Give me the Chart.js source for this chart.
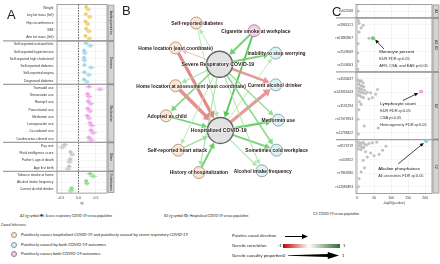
<!DOCTYPE html>
<html>
<head>
<meta charset="utf-8">
<script src="https://cdn.jsdelivr.net/npm/chart.js@4.4.1/dist/chart.umd.min.js"></script>
<style>
body{margin:0;width:440px;height:264px;overflow:hidden;background:#fff;position:relative;font-family:"Liberation Sans",Arial,sans-serif;color:#222}
canvas{position:absolute}
.t{position:absolute;white-space:nowrap;line-height:1;font-family:Lato,"Liberation Sans",sans-serif}
.dot{position:absolute;width:4px;height:4px;border-radius:50%;border:1px solid #777}
.letter{position:absolute;font-size:13px;line-height:1;font-family:"Liberation Sans",Arial,sans-serif}
</style>
</head>
<body>
<canvas id="chartA" width="115" height="205" style="left:0;top:0"></canvas>
<canvas id="chartB" width="210" height="205" style="left:112px;top:0"></canvas>
<canvas id="chartC" width="120" height="205" style="left:320px;top:0"></canvas>

<div class="letter" style="left:7px;top:8px">A</div>
<div class="letter" style="left:122px;top:4px">B</div>
<div class="letter" style="left:332px;top:5px">C</div>

<!-- legend -->
<div class="t" style="left:20px;top:213px;font-size:3.2px">A2 (rg symbol <b style="font-size:5px">&#9679;</b>): Severe respiratory COVID-19 versus population</div>
<div class="t" style="left:164px;top:213px;font-size:3.2px">B2 (rg symbol <b style="font-size:5px">&#9675;</b>): Hospitalized COVID-19 versus population</div>
<div class="t" style="left:313px;top:213px;font-size:3.2px">C2: COVID-19 versus population</div>
<div class="t" style="left:1px;top:224px;font-size:3.4px">Causal Inference:</div>
<div class="dot" style="left:11px;top:232px;background:#fde6cf;border-color:#a89577"></div>
<div class="t" style="left:21px;top:233px;font-size:4.1px">Putatively causes <i>hospitalized COVID-19</i> and putatively caused by <i>severe respiratory COVID-19</i></div>
<div class="dot" style="left:11px;top:242px;background:#d8f3f3;border-color:#7c9596"></div>
<div class="t" style="left:21px;top:243px;font-size:4.1px">Putatively caused by both COVID-19 outcomes</div>
<div class="dot" style="left:11px;top:251px;background:#f6c8ea;border-color:#9a7b92"></div>
<div class="t" style="left:21px;top:252px;font-size:4.1px">Putatively causes both COVID-19 outcomes</div>

<div class="t" style="left:232px;top:234px;font-size:4.1px">Putative causal direction</div>
<div style="position:absolute;left:285px;top:236px;width:18px;height:1.4px;background:#000"></div>
<div style="position:absolute;left:302px;top:234px;width:6px;height:5px;background:#000;clip-path:polygon(0 0,100% 50%,0 100%)"></div>
<div class="t" style="left:232px;top:244px;font-size:4.1px">Genetic correlation</div>
<div class="t" style="left:278px;top:244px;font-size:4.1px">-1</div>
<div style="position:absolute;left:283px;top:244px;width:57px;height:4px;background:linear-gradient(to right,#c40000,#ffffff 45%,#2f6b2f)"></div>
<div class="t" style="left:343px;top:244px;font-size:4.1px">1</div>
<div class="t" style="left:232px;top:254px;font-size:4.1px">Genetic causality proportion</div>
<div class="t" style="left:283px;top:254px;font-size:4.1px">0</div>
<div style="position:absolute;left:288px;top:252px;width:51px;height:7px;background:#000;clip-path:polygon(0 47%,78% 28%,78% 0,100% 50%,78% 100%,78% 72%,0 53%)"></div>
<div class="t" style="left:342px;top:254px;font-size:4.1px">1</div>

<script>
Chart.defaults.font.family = '"Liberation Sans", Arial, sans-serif';
Chart.defaults.color = '#333';
Chart.defaults.animation = false;

// ---------- Panel A data ----------
const rowsA = ["Weight","Leg fat mass (left)","Hip circumference","BMI","Arm fat mass (left)",
  "Self-reported osteoarthritis","Self-reported hypertension","Self-reported high cholesterol","Self-reported diabetes","Self-reported angina","Diagnosed diabetes",
  "Tramadol use","Simvastatin use","Ramipril use","Paracetamol use","Metformin use","Lansoprazole use","Co-codamol use","Candesartan cilexetil use",
  "Pay rent","Fluid intelligence score","Father's age at death","Age first birth",
  "Tobacco smoke at home","Alcohol intake frequency","Current alcohol drinker"];
const facetA = [0,0,0,0,0, 1,1,1,1,1,1, 2,2,2,2,2,2,2,2, 3,3,3,3, 4,4,4];
const facetNamesA = ["Anthropometrics","Disease","Medication","Other","Substances"];
const rgA2 = [0.22,0.21,0.20,0.22,0.20, 0.22,0.16,0.16,0.17,0.17,0.16, 0.30,0.26,0.28,0.27,0.25,0.33,0.36,0.30, -0.40,-0.23,-0.24,-0.27, 0.33,0.22,-0.20];
const seA2 = [0.03,0.03,0.03,0.03,0.03, 0.04,0.03,0.03,0.03,0.04,0.03, 0.05,0.04,0.04,0.04,0.04,0.04,0.05,0.05, 0.05,0.03,0.04,0.04, 0.05,0.03,0.04];
const rgB2 = [0.28,0.32,0.26,0.30,0.31, 0.34,0.18,0.17,0.36,0.30,0.24, 0.62,0.30,0.35,0.33,0.30,0.38,0.42,0.36, -0.47,-0.18,-0.26,-0.30, 0.42,0.24,-0.22];
const seB2 = [0.04,0.04,0.04,0.04,0.04, 0.05,0.04,0.04,0.05,0.05,0.04, 0.07,0.05,0.05,0.05,0.05,0.05,0.06,0.06, 0.06,0.04,0.05,0.05, 0.06,0.04,0.05];
const ticksA = [-0.5, 0, 0.5];
const facetColA = ["#f1cd62","#9dd6ea","#f2a2ec","#c6c6c6","#8ddb8d"];

// ---------- Panel B data ----------
const nodeNames = ["Self-reported diabetes","Cigarette smoke at workplace","Home location (east coordinate)","Severe Respiratory COVID-19",
  "Inability to stop worrying","Home location at assessment (east coordinate)","Current alcohol drinker","Adopted as child",
  "Hospitalized COVID-19","Metformin use","Self-reported heart attack","Sometimes cold workplace","History of hospitalization","Alcohol intake frequency"];
const nodeType = [0,2,0,3,1,0,1,0,3,1,0,1,0,1]; // 0 causes hosp/caused by severe, 1 caused by both, 2 causes both, 3 outcome
const nodeX = [81,148,57,108,173,57,173,46,109,176,60,174,84,157];
const nodeY = [10,19,39,58,45,83,82,118,135,123,158,158,184,182];
const labelDx = [1,2,0,-2,1,18,-1,1,-2,0,-1,0,0,1];
const edgeFrom = [3,0,3,2,3,5,3,7,3,10,3,12,1,1,3,8,3,8,3,8,3,8,3,8];
const edgeTo   = [0,8,2,8,5,8,7,8,10,8,12,8,3,8,4,4,6,6,9,9,11,11,13,13];
const edgeRg   = [0.15,0.15,-0.2,-0.5,0.2,-0.45,0.4,0.45,0.15,0.25,0.2,0.5,0.45,0.6,0.45,0.12,-0.4,-0.4,0.3,0.5,0.35,0.45,0.15,0.15];
const edgeProp = [0.1,0.1,0.1,0.6,0.15,0.7,0.25,0.25,0.1,0.2,0.15,0.3,0.35,0.3,0.35,0.1,0.45,0.6,0.2,0.4,0.25,0.3,0.15,0.15];

// ---------- Panel C data ----------
const snpsC = ["rs622568","rs2861521","rs61882867","rs2109069","rs2109063",
  "rs4530637","rs143334143","rs3131294","rs17076953","rs11798422",
  "rs8176719","rs505922","rs7849280","rs12683493"];
const facetRangesC = [[0,1],[1,5],[5,10],[10,14]];
const facetNamesC = ["A2","A2, B2","B2","C2"];
const greyX = [3, 6,18,12,6,4,35,3,2,3,2,
  3,8,13,18,5,10,15,20,4,9,14,22,6,11,17,25,3,8,13,19,30,40,55,45,35,60,7,12,5,21,62,3,4,
  3,8,13,18,23,5,10,15,20,28,35,45,58,4,12,25,40,50,65,75,85,30,18,22,12,6,4];
const greyY = [0.5, 1.4,1.55,1.75,2.05,1.2,2.5,2.9,3.6,4.2,4.8,
  5.6,5.7,5.65,5.8,5.9,6.0,6.05,6.1,6.2,6.25,6.3,6.35,6.45,6.5,6.55,6.6,6.7,6.75,6.85,6.9,6.5,6.55,6.65,6.9,7.0,6.3,7.2,7.4,7.8,9.0,9.15,8.5,9.6,
  10.2,10.25,10.3,10.2,10.35,10.45,10.5,10.55,10.6,10.4,10.3,10.25,10.2,10.7,10.75,10.9,11.0,11.2,11.1,10.8,10.5,11.3,11.55,12.1,12.4,12.9,13.5];
const hiName = ["Monocyte percent","Lymphocyte count","Alkaline phosphatase"];
const hiX = [47,188,203];
const hiY = [2.5,6.45,10.1];
const hiNotes = [["EUR FDR q<0.05","AFR, CSA, and EAS p<0.05"],["EUR FDR q<0.05","CSA p<0.05","Heterogeneity FDR q<0.05"],["All ancestries FDR q<0.05"]];
const noteX = [65,68,62];
const noteY = [3.52,7.33,12.17];
const arrowFromX = [79,135,121], arrowFromY = [3.3,7.11,11.8];
const arrowToX = [53,180,196], arrowToY = [2.6,6.55,10.25];
const ticksC = [0,50,100,150,200];

// ---------- helpers ----------
function stripPlugin(ranges, names, fullLeft) {
  return {
    id: 'strips',
    beforeDatasetsDraw(chart) {
      const {ctx, chartArea: a, scales: {y}} = chart;
      ctx.save();
      ranges.forEach((r, i) => {
        const y0 = y.getPixelForValue(r[0]), y1 = y.getPixelForValue(r[1]);
        ctx.strokeStyle = '#8a8a8a';
        ctx.lineWidth = 0.8;
        ctx.strokeRect(a.left, y0, a.right - a.left, y1 - y0);
        if (i > 0) {
          ctx.strokeStyle = '#a0a0a0';
          ctx.lineWidth = 1.2;
          ctx.beginPath(); ctx.moveTo(fullLeft, y0); ctx.lineTo(a.right + 7, y0); ctx.stroke();
        }
      });
      ctx.restore();
    },
    afterDraw(chart) {
      const {ctx, chartArea: a, scales: {y}} = chart;
      ctx.save();
      ranges.forEach((r, i) => {
        const y0 = y.getPixelForValue(r[0]), y1 = y.getPixelForValue(r[1]);
        ctx.fillStyle = '#d4d4d4';
        ctx.fillRect(a.right + 1, y0 + 0.5, 6, y1 - y0 - 1);
        ctx.strokeStyle = '#7a7a7a';
        ctx.lineWidth = 0.6;
        ctx.strokeRect(a.right + 1, y0 + 0.5, 6, y1 - y0 - 1);
        ctx.translate(a.right + 4, (y0 + y1) / 2);
        ctx.rotate(Math.PI / 2);
        ctx.fillStyle = '#222';
        ctx.font = '3.3px "Liberation Sans", Arial';
        ctx.textAlign = 'center';
        ctx.textBaseline = 'middle';
        ctx.fillText(names[i], 0, 0);
        ctx.setTransform(1, 0, 0, 1, 0, 0);
      });
      ctx.restore();
    }
  };
}

function rgColor(rg, alpha) {
  const t = Math.min(1, Math.abs(rg) / 0.6);
  const c = rg >= 0 ? [70, 195, 70] : [220, 105, 105];
  const m = c.map(v => Math.round(255 + (v - 255) * (0.25 + 0.75 * t)));
  return `rgba(${m[0]},${m[1]},${m[2]},${alpha})`;
}

// ---------- Panel A ----------
const errPluginA = {
  id: 'errA',
  beforeDatasetsDraw(chart) {
    const {ctx, scales: {x, y}} = chart;
    ctx.save();
    // reference line at zero
    ctx.strokeStyle = '#222';
    ctx.setLineDash([1.5, 1.2]);
    ctx.lineWidth = 0.7;
    ctx.beginPath();
    ctx.moveTo(x.getPixelForValue(0), chart.chartArea.top);
    ctx.lineTo(x.getPixelForValue(0), chart.chartArea.bottom);
    ctx.stroke();
    ctx.setLineDash([]);
    [[rgA2, seA2, -0.18], [rgB2, seB2, 0.18]].forEach(([v, se, off]) => {
      v.forEach((val, i) => {
        ctx.strokeStyle = facetColA[facetA[i]];
        ctx.lineWidth = 0.8;
        const yy = y.getPixelForValue(i + off);
        ctx.beginPath();
        ctx.moveTo(x.getPixelForValue(val - 1.96 * se[i]), yy);
        ctx.lineTo(x.getPixelForValue(val + 1.96 * se[i]), yy);
        ctx.stroke();
      });
    });
    ctx.restore();
  }
};

new Chart(document.getElementById('chartA'), {
  type: 'scatter',
  data: {
    datasets: [
      {
        label: 'A2',
        data: rgA2.map((v, i) => ({x: v, y: i - 0.18})),
        pointRadius: 1.6,
        pointBackgroundColor: rgA2.map((v, i) => facetColA[facetA[i]]),
        pointBorderColor: rgA2.map((v, i) => facetColA[facetA[i]]),
        pointBorderWidth: 0.4
      },
      {
        label: 'B2',
        data: rgB2.map((v, i) => ({x: v, y: i + 0.18})),
        pointRadius: 1.8,
        pointBackgroundColor: rgB2.map((v, i) => facetColA[facetA[i]] + '99'),
        pointBorderColor: rgB2.map((v, i) => facetColA[facetA[i]]),
        pointBorderWidth: 0.6
      }
    ]
  },
  options: {
    responsive: false,
    layout: {padding: {top: 1, right: 8, left: 0, bottom: 0}},
    plugins: {legend: {display: false}, tooltip: {enabled: false}},
    scales: {
      x: {
        min: -0.62, max: 0.82,
        afterBuildTicks: s => { s.ticks = ticksA.map(v => ({value: v})); },
        ticks: {font: {size: 3.6}, padding: 1, callback: v => v.toFixed(1)},
        grid: {color: '#ececec', lineWidth: 0.6, tickLength: 1.5},
        border: {display: false},
        title: {display: true, text: 'rg', font: {size: 3.4}, padding: 0}
      },
      y: {
        reverse: true, min: -0.5, max: 25.5,
        afterBuildTicks: s => { s.ticks = rowsA.map((r, i) => ({value: i})); },
        afterFit: s => { s.width = 57; },
        ticks: {font: {size: 3.35}, padding: 2, color: '#333', callback: v => rowsA[v]},
        grid: {color: '#ededed', lineWidth: 0.5, tickLength: 1.5},
        border: {display: false}
      }
    }
  },
  plugins: [errPluginA, stripPlugin([[-0.5,4.5],[4.5,10.5],[10.5,18.5],[18.5,22.5],[22.5,25.5]], facetNamesA, 3)]
});

// ---------- Panel B ----------
const nodeFill = ["#fde6cf", "#d8f3f3", "#f6c8ea", "#e2e2e2"];
const nodeBorder = ["#9e8a74", "#7b9394", "#9a7b92", "#666666"];
const nodeR = nodeType.map(t => t === 3 ? 13 : 6);

const edgePlugin = {
  id: 'edges',
  beforeDatasetsDraw(chart) {
    const {ctx, scales: {x, y}} = chart;
    ctx.save();
    edgeFrom.forEach((f, k) => {
      const t = edgeTo[k];
      const x1 = x.getPixelForValue(nodeX[f]), y1 = y.getPixelForValue(nodeY[f]);
      const x2 = x.getPixelForValue(nodeX[t]), y2 = y.getPixelForValue(nodeY[t]);
      const dx = x2 - x1, dy = y2 - y1, len = Math.hypot(dx, dy);
      const ux = dx / len, uy = dy / len;
      const w = 0.5 + edgeProp[k] * 4.5;
      const head = 4 + w * 0.9;
      const sx = x1 + ux * nodeR[f], sy = y1 + uy * nodeR[f];
      const ex = x2 - ux * (nodeR[t] + 0.6), ey = y2 - uy * (nodeR[t] + 0.6);
      const col = rgColor(edgeRg[k], 0.9);
      ctx.strokeStyle = col;
      ctx.fillStyle = col;
      ctx.lineWidth = w;
      ctx.beginPath();
      ctx.moveTo(sx, sy);
      ctx.lineTo(ex - ux * head * 0.7, ey - uy * head * 0.7);
      ctx.stroke();
      const hw = head * 0.5 + w * 0.3;
      ctx.beginPath();
      ctx.moveTo(ex, ey);
      ctx.lineTo(ex - ux * head - uy * hw, ey - uy * head + ux * hw);
      ctx.lineTo(ex - ux * head + uy * hw, ey - uy * head - ux * hw);
      ctx.closePath();
      ctx.fill();
    });
    ctx.restore();
  },
  afterDatasetsDraw(chart) {
    const {ctx, scales: {x, y}} = chart;
    ctx.save();
    ctx.textAlign = 'center';
    ctx.textBaseline = 'middle';
    nodeNames.forEach((n, i) => {
      const big = nodeType[i] === 3;
      ctx.font = 'bold ' + (big ? 5.2 : 4.9) + 'px "Liberation Sans", Arial';
      const px = x.getPixelForValue(nodeX[i] + labelDx[i]);
      const py = y.getPixelForValue(nodeY[i]) + 0.5;
      ctx.lineWidth = 1.2;
      ctx.strokeStyle = 'rgba(255,255,255,0.6)';
      ctx.strokeText(n, px, py);
      ctx.fillStyle = '#2a1a1a';
      ctx.fillText(n, px, py);
    });
    ctx.restore();
  }
};

new Chart(document.getElementById('chartB'), {
  type: 'scatter',
  data: {
    datasets: [{
      data: nodeX.map((v, i) => ({x: v, y: nodeY[i]})),
      pointRadius: nodeR,
      pointBackgroundColor: nodeType.map(t => nodeFill[t]),
      pointBorderColor: nodeType.map(t => nodeBorder[t]),
      pointBorderWidth: nodeType.map(t => t === 3 ? 1.4 : 0.8)
    }]
  },
  options: {
    responsive: false,
    layout: {padding: 0},
    plugins: {legend: {display: false}, tooltip: {enabled: false}},
    scales: {
      x: {display: false, min: 0, max: 210},
      y: {display: false, min: 0, max: 205, reverse: true}
    }
  },
  plugins: [edgePlugin]
});

// ---------- Panel C ----------
const notePluginC = {
  id: 'notesC',
  beforeDatasetsDraw(chart) {
    const {ctx, scales: {x, y}, chartArea: a} = chart;
    ctx.save();
    ctx.strokeStyle = '#9a9a9a';
    ctx.setLineDash([1, 1]);
    ctx.lineWidth = 0.6;
    ctx.beginPath();
    ctx.moveTo(x.getPixelForValue(1.3), a.top);
    ctx.lineTo(x.getPixelForValue(1.3), a.bottom);
    ctx.stroke();
    ctx.restore();
  },
  afterDatasetsDraw(chart) {
    const {ctx, scales: {x, y}} = chart;
    ctx.save();
    ctx.textBaseline = 'middle';
    ctx.textAlign = 'left';
    hiName.forEach((n, i) => {
      const tx = x.getPixelForValue(noteX[i]);
      let ty = y.getPixelForValue(noteY[i]);
      ctx.fillStyle = '#111';
      ctx.font = '4.4px "Liberation Sans", Arial';
      ctx.fillText(n, tx, ty);
      ctx.font = '3.9px "Liberation Sans", Arial';
      ctx.fillStyle = '#333';
      hiNotes[i].forEach((line, j) => {
        ctx.fillText(line, tx, ty + 7 * (j + 1));
      });
      // arrow
      const x1 = x.getPixelForValue(arrowFromX[i]), y1 = y.getPixelForValue(arrowFromY[i]);
      const x2 = x.getPixelForValue(arrowToX[i]), y2 = y.getPixelForValue(arrowToY[i]);
      const len = Math.hypot(x2 - x1, y2 - y1), ux = (x2 - x1) / len, uy = (y2 - y1) / len;
      ctx.strokeStyle = '#111';
      ctx.fillStyle = '#111';
      ctx.lineWidth = 0.8;
      ctx.beginPath();
      ctx.moveTo(x1, y1);
      ctx.lineTo(x2 - ux * 3, y2 - uy * 3);
      ctx.stroke();
      ctx.beginPath();
      ctx.moveTo(x2, y2);
      ctx.lineTo(x2 - ux * 4 - uy * 1.8, y2 - uy * 4 + ux * 1.8);
      ctx.lineTo(x2 - ux * 4 + uy * 1.8, y2 - uy * 4 - ux * 1.8);
      ctx.closePath();
      ctx.fill();
    });
    ctx.restore();
  }
};

new Chart(document.getElementById('chartC'), {
  type: 'scatter',
  data: {
    datasets: [
      {
        data: greyX.map((v, i) => ({x: v, y: greyY[i]})),
        pointRadius: 1.3,
        pointBackgroundColor: '#c4c4c4',
        pointBorderColor: '#aaaaaa',
        pointBorderWidth: 0.3
      },
      {
        data: hiX.map((v, i) => ({x: v, y: hiY[i]})),
        pointRadius: 1.8,
        pointBackgroundColor: ['#5fd85f', '#f5a3ef', '#8fd6ea'],
        pointBorderColor: ['#4bb84b', '#d883d2', '#6cb7cc'],
        pointBorderWidth: 0.4
      }
    ]
  },
  options: {
    responsive: false,
    layout: {padding: {top: 2, right: 8, left: 0, bottom: 0}},
    plugins: {legend: {display: false}, tooltip: {enabled: false}},
    scales: {
      x: {
        min: -3, max: 220,
        afterBuildTicks: s => { s.ticks = ticksC.map(v => ({value: v})); },
        ticks: {font: {size: 3.4}, padding: 1},
        grid: {color: '#ececec', lineWidth: 0.6, tickLength: 1.5},
        border: {display: false},
        title: {display: true, text: '-log10(p-value)', font: {size: 3.2}, padding: 0}
      },
      y: {
        reverse: true, min: 0, max: 14,
        afterBuildTicks: s => { s.ticks = snpsC.map((r, i) => ({value: i + 0.5})); },
        afterFit: s => { s.width = 36; },
        ticks: {font: {size: 3.3}, padding: 1.5, color: '#333', callback: (v, i) => snpsC[i]},
        grid: {color: '#ededed', lineWidth: 0.5, tickLength: 1.5},
        border: {display: false}
      }
    }
  },
  plugins: [notePluginC, stripPlugin(facetRangesC, facetNamesC, 16)]
});
</script>
</body>
</html>
